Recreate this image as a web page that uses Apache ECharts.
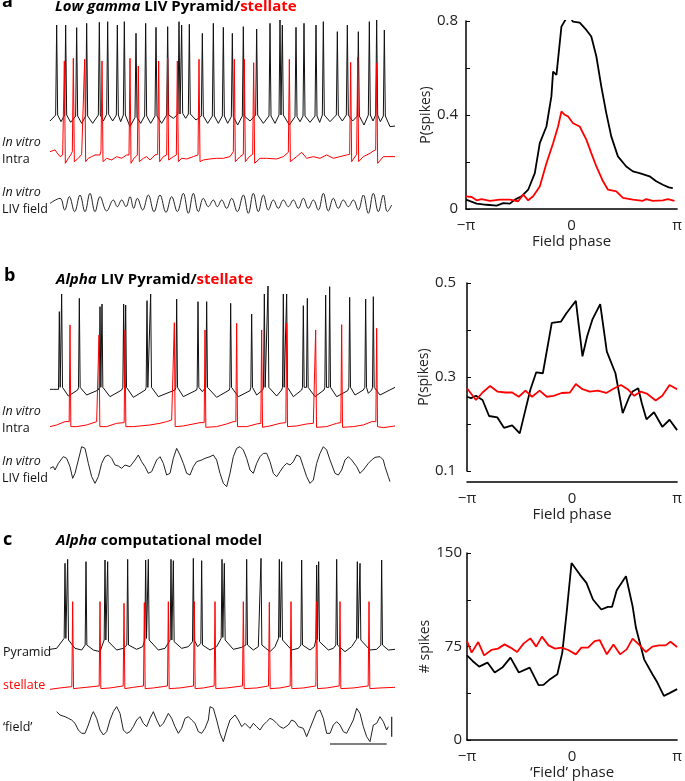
<!DOCTYPE html>
<html><head><meta charset="utf-8">
<script src="https://cdn.jsdelivr.net/npm/echarts@6/dist/echarts.min.js"></script>
<style>html,body{margin:0;padding:0;background:#fff}#c{width:685px;height:781px}</style>
</head><body><div id="c"></div>
<script>
// ---------------- DATA (time in arbitrary sample units 0..1035, amplitude in arbitrary units) ----------------
// Spike rows: [time, foot before, peak, value after]
const pyrA_spikes = [[20,45,315,45],[47,45,315,45],[80,42,307,42],[110,42,320,42],[148,45,323,45],[173,47,325,47],[202,45,315,45],[223,45,325,45],[258,38,290,38],[287,42,320,42],[318,42,308,42],[353,45,310,45],[387,48,325,48],[395,50,315,50],[418,48,317,48],[457,42,290,42],[490,42,320,42],[520,42,308,42],[547,40,290,40],[580,42,310,42],[620,45,303,45],[660,42,320,42],[690,45,330,45],[697,45,315,45],[738,40,308,40],[762,42,320,42],[798,42,315,42],[820,45,325,45],[862,45,295,45],[892,45,315,45],[925,42,295,42],[958,45,325,45],[980,45,330,45],[1003,42,300,42]];
const pyrA_base = [[0,27],[5,27],[33,25],[62,23],[95,20],[128,20],[160,27],[188,27],[212,25],[240,10],[272,20],[302,20],[335,20],[370,35],[407,35],[438,30],[473,20],[505,20],[533,20],[563,15],[600,27],[640,20],[675,20],[718,15],[750,25],[780,23],[809,23],[840,25],[877,27],[908,27],[942,15],[969,27],[991,25],[1020,10],[1035,12]];
const stlA_spikes = [[43,42,322,15],[70,50,330,20],[104,45,327,20],[156,52,322,20],[240,40,330,15],[265,40,307,20],[326,42,322,20],[353,40,330,25],[382,40,322,20],[447,40,327,20],[553,50,327,20],[583,42,327,20],[611,42,317,15],[718,48,327,20],[902,42,318,20],[923,42,333,20],[980,55,315,15]];
const stlA_base = [[0,50],[15,55],[30,35],[38,40],[55,30],[62,40],[85,30],[95,42],[115,30],[125,35],[135,40],[150,40],[170,30],[185,25],[200,35],[215,30],[230,40],[252,30],[280,30],[290,35],[300,25],[315,40],[340,35],[370,35],[395,30],[410,28],[430,35],[460,25],[480,28],[500,30],[520,30],[540,35],[570,35],[598,35],[630,30],[650,30],[680,28],[700,35],[740,35],[755,48],[770,30],[790,35],[810,30],[830,40],[850,30],[870,35],[890,40],[940,35],[960,45],[970,52],[1000,35],[1020,35],[1035,35]];
const fieldA = [[0,35],[30,50],[44,15],[58,55],[74,10],[90,60],[105,10],[120,65],[135,10],[150,55],[170,12],[190,45],[202,25],[215,45],[228,25],[240,55],[251,20],[262,50],[278,15],[295,60],[312,10],[330,60],[348,8],[365,55],[382,10],[400,65],[415,5],[430,65],[445,10],[460,50],[475,25],[490,45],[502,25],[515,45],[530,20],[545,50],[562,10],[580,60],[595,5],[610,65],[625,10],[640,60],[655,15],[670,45],[685,20],[700,45],[715,25],[730,45],[745,20],[760,50],[775,20],[790,45],[805,15],[820,65],[835,12],[850,50],[865,20],[880,45],[895,25],[910,45],[925,15],[940,60],[955,5],[970,65],[985,10],[1000,60],[1012,10],[1025,30]];

const pyrB_spikes = [[28,32,265,38],[35,38,318,38],[88,38,305,38],[150,38,280,38],[156,38,288,38],[221,38,288,38],[227,38,285,38],[291,38,298,38],[302,38,318,38],[380,38,303,38],[444,38,295,38],[470,38,295,38],[542,38,290,38],[605,38,258,38],[643,38,318,38],[654,38,342,38],[700,38,318,38],[710,38,318,38],[760,38,283,38],[772,38,305,38],[827,38,315,38],[839,38,340,38],[899,38,308,38],[947,38,303,38],[970,38,310,38]];
const pyrB_base = [[0,32],[10,32],[55,12],[83,30],[110,15],[145,30],[180,10],[215,30],[250,8],[286,30],[325,10],[375,30],[400,10],[440,30],[457,25],[500,8],[538,30],[565,10],[600,28],[620,15],[638,30],[680,12],[695,30],[730,10],[755,30],[795,10],[822,30],[860,10],[893,28],[915,15],[940,30],[955,20],[965,30],[990,15],[1035,38]];
const stlB_spikes = [[60,35,325,20],[147,35,295,20],[225,32,310,20],[373,40,332,20],[465,32,310,18],[560,35,330,20],[635,30,310,18],[710,32,330,20],[797,30,310,18],[875,32,326,18],[980,35,315,20]];
const stlB_base = [[0,20],[20,25],[45,35],[80,20],[110,25],[140,35],[170,20],[200,30],[250,20],[300,25],[330,30],[350,35],[365,40],[400,22],[430,28],[450,32],[500,20],[530,28],[550,35],[590,20],[620,28],[660,22],[690,30],[740,22],[770,28],[790,30],[830,20],[860,30],[910,20],[940,25],[965,35],[1000,17],[1035,22]];
const fieldB = [[0,65],[10,70],[15,60],[25,80],[40,100],[50,95],[60,70],[68,35],[75,50],[85,90],[95,130],[105,125],[115,80],[125,40],[135,20],[145,40],[155,80],[165,100],[175,105],[185,95],[195,75],[205,72],[215,65],[225,75],[240,70],[255,90],[265,105],[275,85],[285,70],[295,50],[305,55],[320,90],[330,100],[340,80],[350,45],[360,50],[370,95],[380,125],[390,105],[400,80],[410,50],[420,45],[430,70],[440,85],[455,90],[465,95],[480,100],[490,105],[500,90],[510,50],[520,20],[530,10],[540,50],[550,100],[560,125],[570,130],[580,120],[590,95],[600,60],[610,50],[620,80],[630,100],[640,110],[650,110],[660,85],[670,50],[680,40],[690,55],[700,70],[710,80],[720,75],[730,85],[740,105],[750,100],[760,70],[770,40],[780,20],[790,30],[800,80],[810,110],[820,130],[830,120],[840,90],[855,50],[865,45],[875,60],[885,90],[895,100],[905,90],[920,70],[930,50],[940,60],[955,80],[965,90],[975,98],[990,100],[1000,90],[1005,70],[1015,40],[1020,25]];

const pyrC_spikes = [[45,65,290,65],[53,65,302,60],[108,45,295,45],[165,60,300,60],[173,60,295,55],[233,45,302,45],[287,60,300,65],[295,65,302,60],[363,60,302,60],[370,60,298,55],[430,55,305,60],[455,50,298,45],[516,65,302,68],[523,68,290,60],[590,45,302,45],[633,45,305,45],[688,65,302,68],[695,68,295,60],[755,45,300,45],[800,60,285,62],[806,62,295,55],[860,45,302,45],[922,62,295,65],[930,65,290,60],[995,45,300,45]];
const pyrC_base = [[0,32],[20,35],[75,35],[95,30],[130,30],[150,25],[200,30],[220,35],[260,32],[278,40],[325,30],[345,35],[395,35],[415,40],[443,40],[480,30],[500,40],[550,32],[575,38],[610,30],[625,40],[660,25],[675,40],[725,30],[745,35],[780,30],[793,40],[835,30],[850,35],[885,25],[905,40],[960,30],[980,32],[1015,30],[1035,32]];
const stlC_spikes = [[68,20,275,14],[150,22,275,14],[222,22,270,14],[283,22,272,14],[355,22,275,14],[433,22,275,14],[495,22,275,14],[580,22,275,14],[658,22,273,14],[723,22,275,14],[800,22,275,14],[870,22,275,14],[957,22,275,14]];
const stlC_base = [[0,12],[30,16],[90,16],[180,16],[250,18],[310,16],[390,16],[460,16],[530,16],[620,16],[690,16],[760,16],[830,16],[910,16],[990,16],[1035,18]];
const fieldC = [[20,115],[30,105],[45,100],[55,95],[65,90],[75,80],[85,60],[95,50],[105,50],[115,75],[125,105],[130,115],[140,95],[150,60],[160,45],[170,55],[180,90],[190,115],[200,130],[210,110],[220,60],[230,50],[240,55],[250,70],[260,90],[270,100],[280,80],[290,70],[300,95],[310,115],[320,90],[330,70],[340,80],[355,110],[365,95],[375,70],[385,50],[395,65],[405,95],[415,100],[425,90],[435,80],[445,55],[455,50],[465,65],[475,90],[480,130],[490,125],[500,90],[510,50],[520,25],[530,60],[540,90],[555,105],[565,90],[575,70],[585,80],[600,65],[610,80],[620,70],[630,60],[640,75],[650,85],[660,95],[670,90],[680,80],[690,70],[700,65],[715,75],[725,90],[735,85],[745,70],[760,65],[770,40],[780,65],[790,90],[800,115],[810,120],[820,95],[830,50],[840,50],[850,75],[860,85],[870,75],[880,55],[890,50],[900,70],[910,90],[920,125],[930,110],[940,70],[950,40],[960,25],[970,75],[980,80],[990,100],[1000,85],[1010,60],[1015,70]];
const scaleBarH = [[840,18],[1010,18]];
const scaleBarV = [[1025,40],[1025,100]];

// Phase histograms: x in units of pi
const phaseTicks = ['\u2212\u03c0', '0', '\u03c0'];
const histA_pyr = [[-1,0.040],[-0.899,0.023],[-0.805,0.018],[-0.710,0.014],[-0.647,0.025],[-0.584,0.023],[-0.537,0.040],[-0.474,0.054],[-0.411,0.082],[-0.348,0.153],[-0.301,0.280],[-0.238,0.351],[-0.191,0.479],[-0.175,0.585],[-0.143,0.571],[-0.096,0.776],[-0.049,0.812],[-0.017,0.819],[0.014,0.797],[0.077,0.793],[0.140,0.762],[0.187,0.734],[0.235,0.649],[0.282,0.521],[0.329,0.408],[0.376,0.309],[0.439,0.224],[0.518,0.181],[0.581,0.160],[0.644,0.153],[0.739,0.139],[0.802,0.118],[0.865,0.103],[0.921,0.092],[0.959,0.089]];
const histA_stl = [[-1,0.054],[-0.946,0.051],[-0.899,0.037],[-0.852,0.042],[-0.773,0.035],[-0.679,0.040],[-0.584,0.040],[-0.506,0.033],[-0.458,0.061],[-0.411,0.037],[-0.364,0.054],[-0.301,0.096],[-0.238,0.195],[-0.175,0.280],[-0.128,0.351],[-0.096,0.415],[-0.065,0.401],[-0.033,0.394],[0.014,0.365],[0.077,0.351],[0.140,0.295],[0.187,0.238],[0.235,0.181],[0.298,0.118],[0.345,0.082],[0.424,0.075],[0.487,0.047],[0.581,0.040],[0.676,0.035],[0.707,0.042],[0.770,0.035],[0.865,0.037],[0.912,0.042],[0.975,0.035]];
const histB_pyr = [[-1,0.258],[-0.962,0.255],[-0.915,0.260],[-0.852,0.251],[-0.790,0.217],[-0.711,0.214],[-0.648,0.192],[-0.570,0.197],[-0.498,0.180],[-0.444,0.230],[-0.397,0.273],[-0.341,0.310],[-0.278,0.308],[-0.193,0.415],[-0.105,0.418],[-0.052,0.436],[-0.005,0.450],[0.036,0.462],[0.099,0.344],[0.143,0.386],[0.193,0.422],[0.268,0.455],[0.331,0.354],[0.413,0.308],[0.482,0.223],[0.545,0.258],[0.576,0.269],[0.630,0.276],[0.664,0.244],[0.708,0.210],[0.780,0.225],[0.859,0.194],[0.928,0.209],[1,0.187]];
const histB_stl = [[-1,0.276],[-0.915,0.251],[-0.852,0.267],[-0.780,0.281],[-0.711,0.269],[-0.633,0.267],[-0.570,0.267],[-0.507,0.258],[-0.444,0.271],[-0.381,0.258],[-0.309,0.271],[-0.240,0.258],[-0.177,0.260],[-0.099,0.266],[-0.020,0.267],[0.036,0.285],[0.099,0.274],[0.168,0.269],[0.246,0.271],[0.325,0.266],[0.403,0.276],[0.466,0.283],[0.529,0.274],[0.592,0.260],[0.655,0.269],[0.717,0.264],[0.796,0.250],[0.859,0.260],[0.928,0.283],[1,0.274]];
const histC_pyr = [[-1,67.9],[-0.947,63.4],[-0.884,58.9],[-0.805,62.1],[-0.736,54.1],[-0.664,58.1],[-0.586,66.1],[-0.507,54.1],[-0.403,58.1],[-0.319,44.0],[-0.272,44.2],[-0.209,48.8],[-0.140,52.7],[-0.093,70.1],[-0.052,102.0],[-0.005,142.0],[0.074,132.7],[0.137,126.0],[0.199,112.7],[0.278,104.7],[0.341,106.8],[0.381,106.8],[0.425,120.1],[0.513,131.3],[0.576,107.4],[0.608,90.0],[0.686,64.7],[0.765,52.7],[0.812,46.1],[0.874,35.4],[0.928,37.6],[1,40.8]];
const histC_stl = [[-1,79.4],[-0.956,70.1],[-0.893,78.6],[-0.837,67.9],[-0.768,72.2],[-0.705,73.3],[-0.642,76.7],[-0.586,74.1],[-0.523,70.6],[-0.460,77.5],[-0.397,81.5],[-0.341,74.9],[-0.287,82.9],[-0.224,75.9],[-0.162,73.3],[-0.099,74.1],[-0.036,72.2],[0.036,68.7],[0.089,74.1],[0.152,74.1],[0.215,79.4],[0.262,80.2],[0.331,68.7],[0.394,76.7],[0.457,68.7],[0.520,72.7],[0.576,81.3],[0.645,75.9],[0.702,70.6],[0.765,74.9],[0.827,75.9],[0.890,75.9],[0.937,78.8],[1,74.6]];
const yLabelsA = [0, 0.4, 0.8];
const yLabelsB = [0.1, 0.3, 0.5];
const yLabelsC = [0, 75, 150];

// ---------------- BUILD ----------------
function spikeTrace(spikes, base, w) {
  const pts = base.map(p => [p[0], p[1]]);
  spikes.forEach(s => { pts.push([s[0] - w, s[1]], [s[0], s[2]], [s[0] + w, s[3]]); });
  pts.sort((a, b) => a[0] - b[0]);
  return pts;
}
const FONT = 'Open Sans';
const RED = '#ff0000';
const grids = [], xAxes = [], yAxes = [], series = [];

function traceGrid(top, height, ymax, data, color, smooth) {
  const i = grids.length;
  grids.push({ left: 50, top: top, width: 345, height: height });
  xAxes.push({ gridIndex: i, type: 'value', min: 0, max: 1035, show: false });
  yAxes.push({ gridIndex: i, type: 'value', min: 0, max: ymax, show: false });
  series.push({ type: 'line', xAxisIndex: i, yAxisIndex: i, data: data, showSymbol: false, clip: false, smooth: smooth || false,
    lineStyle: { color: color, width: 1 }, silent: true });
  return i;
}
function labelFmt(list) {
  return v => { for (const l of list) { if (Math.abs(v - l) < 1e-6) return String(l); } return ''; };
}
function histGrid(left, top, ymin, ymax, interval, labels, yname, xname, xOffset, yLabelMargin, lines) {
  const i = grids.length;
  grids.push({ left: left, top: top, width: 212, height: 188 });
  xAxes.push({ gridIndex: i, type: 'value', min: -1, max: 1, interval: 1, offset: xOffset,
    axisLine: { show: true, onZero: false, lineStyle: { color: '#000', width: 1.5 } }, axisTick: { show: false }, splitLine: { show: false },
    axisLabel: { formatter: v => phaseTicks[Math.round(v) + 1], color: '#222', fontFamily: FONT, fontSize: 15, margin: 9 },
    name: xname, nameLocation: 'middle', nameGap: 25, nameTextStyle: { color: '#222', fontFamily: FONT, fontSize: 15 } });
  yAxes.push({ gridIndex: i, type: 'value', min: ymin, max: ymax, interval: interval,
    axisLine: { show: true, onZero: false, lineStyle: { color: '#000', width: 1.5 } },
    axisTick: { show: true, inside: true, length: 4, lineStyle: { color: '#000', width: 1 } }, splitLine: { show: false },
    axisLabel: { formatter: labelFmt(labels), color: '#222', fontFamily: FONT, fontSize: 15, margin: yLabelMargin, showMinLabel: true, showMaxLabel: true },
    name: yname, nameLocation: 'middle', nameRotate: 90, nameGap: 33, nameTextStyle: { color: '#222', fontFamily: FONT, fontSize: 14 } });
  lines.forEach(l => series.push({ type: 'line', xAxisIndex: i, yAxisIndex: i, data: l[0], showSymbol: false,
    lineStyle: { color: l[1], width: 1.8 }, silent: true }));
}

// Panel a
traceGrid(15, 115, 345, spikeTrace(pyrA_spikes, pyrA_base, 3), '#111');
traceGrid(48.3, 120, 360, spikeTrace(stlA_spikes, stlA_base, 3), RED);
traceGrid(185, 30, 90, fieldA, '#222', 0.4);
// Panel b
traceGrid(280, 120, 360, spikeTrace(pyrB_spikes, pyrB_base, 2.5), '#111');
traceGrid(313.3, 120, 360, spikeTrace(stlB_spikes, stlB_base, 2.5), RED);
traceGrid(440, 50, 150, fieldB, '#222');
// Panel c
traceGrid(550, 110, 330, spikeTrace(pyrC_spikes, pyrC_base, 2.5), '#111');
traceGrid(593.3, 100, 300, spikeTrace(stlC_spikes, stlC_base, 2.5), RED);
const fc = traceGrid(700, 50, 150, fieldC, '#222');
series.push({ type: 'line', xAxisIndex: fc, yAxisIndex: fc, data: scaleBarH, showSymbol: false, clip: false, lineStyle: { color: '#555', width: 1.3 }, silent: true });
series.push({ type: 'line', xAxisIndex: fc, yAxisIndex: fc, data: scaleBarV, showSymbol: false, clip: false, lineStyle: { color: '#333', width: 1.3 }, silent: true });

// Right plots
histGrid(466, 21, 0, 0.8, 0.2, yLabelsA, 'P(spikes)', 'Field phase', 0, 8, [[histA_pyr, '#000'], [histA_stl, RED]]);
histGrid(467, 283, 0.1, 0.5, 0.1, yLabelsB, 'P(spikes)', 'Field phase', 11, 11, [[histB_pyr, '#000'], [histB_stl, RED]]);
histGrid(467, 553, 0, 150, 37.5, yLabelsC, '# spikes', '\u2018Field\u2019 phase', 0, 5, [[histC_pyr, '#000'], [histC_stl, RED]]);

// Text
function txt(x, y, text, opts) {
  return Object.assign({ type: 'text', x: x, y: y, silent: true,
    style: Object.assign({ text: text, fill: '#111', fontFamily: FONT, fontSize: 13, align: 'left', verticalAlign: 'middle' }, opts || {}) });
}
const richT = {
  i: { fontFamily: FONT, fontSize: 15, fontWeight: 'bold', fontStyle: 'italic', fill: '#000', color: '#000' },
  b: { fontFamily: FONT, fontSize: 15, fontWeight: 'bold', fill: '#000', color: '#000' },
  r: { fontFamily: FONT, fontSize: 15, fontWeight: 'bold', fill: RED, color: RED }
};
const graphics = [
  txt(2, 2, 'a', { fontSize: 18, fontWeight: 'bold', fill: '#000' }),
  txt(55, 7, '{i|Low gamma}{b| LIV Pyramid/}{r|stellate}', { rich: richT }),
  txt(2, 142, 'In vitro', { fontStyle: 'italic', fontSize: 12.5 }),
  txt(2, 159, 'Intra', { fontSize: 12.5 }),
  txt(2, 192, 'In vitro', { fontStyle: 'italic', fontSize: 12.5 }),
  txt(2, 209, 'LIV field', { fontSize: 12.5 }),
  txt(4, 276, 'b', { fontSize: 18, fontWeight: 'bold', fill: '#000' }),
  txt(56, 280, '{i|Alpha}{b| LIV Pyramid/}{r|stellate}', { rich: richT }),
  txt(2, 411, 'In vitro', { fontStyle: 'italic', fontSize: 12.5 }),
  txt(2, 428, 'Intra', { fontSize: 12.5 }),
  txt(2, 461, 'In vitro', { fontStyle: 'italic', fontSize: 12.5 }),
  txt(2, 478, 'LIV field', { fontSize: 12.5 }),
  txt(3, 540, 'c', { fontSize: 18, fontWeight: 'bold', fill: '#000' }),
  txt(56, 541, '{i|Alpha}{b| computational model}', { rich: richT }),
  txt(3, 652, 'Pyramid', { fontSize: 12.5 }),
  txt(3, 685, 'stellate', { fontSize: 12.5, fill: RED }),
  txt(3, 727, '\u2018field\u2019', { fontSize: 12.5 })
];

const chart = echarts.init(document.getElementById('c'), null, { renderer: 'canvas' });
chart.setOption({
  animation: false,
  backgroundColor: '#fff',
  grid: grids, xAxis: xAxes, yAxis: yAxes, series: series,
  graphic: graphics
});
</script></body></html>
